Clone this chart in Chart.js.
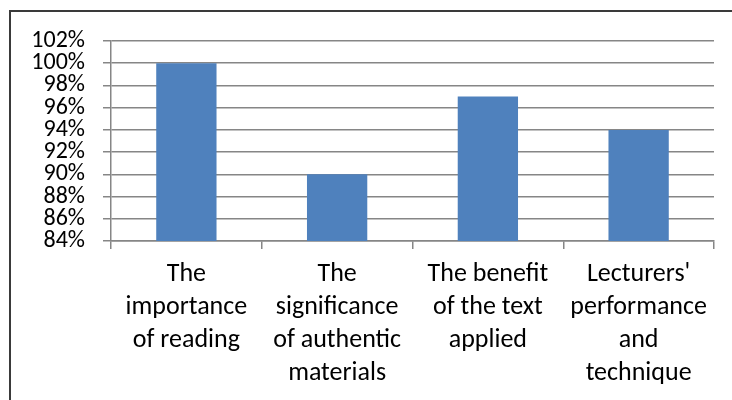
<!DOCTYPE html>
<html>
<head>
<meta charset="utf-8">
<script src="https://cdn.jsdelivr.net/npm/chart.js@4"></script>
<style>
  html, body { margin: 0; padding: 0; background: #fff; }
  #wrap { position: relative; width: 732px; height: 400px; overflow: hidden; }
  #frame {
    position: absolute; left: 9px; top: 10px; right: -5px; bottom: -5px;
    border-top: 2px solid #3a3a3a; border-left: 2px solid #3a3a3a;
  }
  canvas { position: absolute; left: 0; top: 0; }
</style>
</head>
<body>
<div id="wrap">
  <div id="frame"></div>
  <canvas id="grafico" width="732" height="400"></canvas>
</div>
<script>
  // dados
  const categorias = [
    ["The", "importance", "of reading"],
    ["The", "significance", "of authentic", "materials"],
    ["The benefit", "of the text", "applied"],
    ["Lecturers'", "performance", "and", "technique"],
  ];
  const valores = [1.00, 0.90, 0.97, 0.94];
  const eixoMin = 0.84;
  const eixoMax = 1.02;
  const passo = 0.02;

  const fonte = "Carlito, Lato, 'Open Sans', sans-serif";
  const cinza = "#868686";

  new Chart(document.getElementById("grafico").getContext("2d"), {
    type: "bar",
    data: {
      labels: categorias,
      datasets: [
        {
          data: valores,
          backgroundColor: "#4f81bd",
          borderWidth: 0,
          barPercentage: 0.4,
          categoryPercentage: 1.0,
        },
      ],
    },
    options: {
      responsive: false,
      animation: false,
      devicePixelRatio: 1,
      layout: { padding: { top: 41, right: 18, left: 0, bottom: 0 } },
      plugins: { legend: { display: false }, tooltip: { enabled: false } },
      scales: {
        y: {
          min: eixoMin,
          max: eixoMax,
          afterFit: (s) => { s.width = 111; },
          ticks: {
            stepSize: passo,
            autoSkip: false,
            color: "#000",
            padding: 18,
            font: { family: fonte, size: 24, lineHeight: 0.8 },
            callback: (v) => Math.round(v * 100) + "%",
          },
          grid: { color: cinza, lineWidth: 1.5, tickLength: 8 },
          border: { color: cinza, width: 1.5 },
        },
        x: {
          afterFit: (s) => { s.height = 159; },
          ticks: {
            color: "#000",
            padding: 9,
            maxRotation: 0,
            autoSkip: false,
            font: { family: fonte, size: 26, lineHeight: 1.27 },
          },
          grid: { drawOnChartArea: false, color: cinza, lineWidth: 1.5, tickLength: 8, offset: true },
          border: { color: cinza, width: 1.5 },
        },
      },
    },
  });
</script>
</body>
</html>
